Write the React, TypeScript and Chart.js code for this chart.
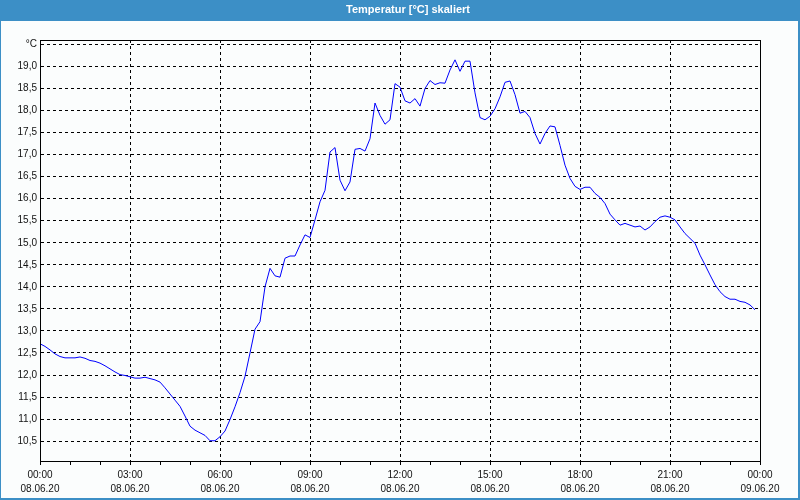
import React, { useEffect, useRef } from "react";
import { Chart, registerables } from "chart.js";

Chart.register(...registerables);

const chartTitle = "Temperatur [°C] skaliert";
const unitLabel = "°C";

// 10-minute samples, 08.06.20 00:00 .. 23:50
const sampleStepMinutes = 10;
const temperatures = [
  12.71, 12.65, 12.57, 12.48, 12.42, 12.39, 12.39, 12.39, 12.41, 12.38,
  12.33, 12.31, 12.27, 12.21, 12.14, 12.07, 12.01, 11.99, 11.96, 11.93,
  11.93, 11.95, 11.92, 11.89, 11.84, 11.71, 11.57, 11.43, 11.29, 11.07,
  10.84, 10.75, 10.69, 10.63, 10.51, 10.51, 10.6, 10.73, 10.99, 11.28,
  11.6, 11.97, 12.5, 13.04, 13.21, 14.0, 14.42, 14.25, 14.22, 14.65,
  14.7, 14.7, 14.95, 15.18, 15.12, 15.52, 15.93, 16.19, 17.06, 17.16,
  16.42, 16.18, 16.38, 17.12, 17.14, 17.08, 17.36, 18.17, 17.89, 17.69,
  17.79, 18.61, 18.53, 18.22, 18.17, 18.27, 18.1, 18.5, 18.68, 18.59,
  18.63, 18.62, 18.92, 19.15, 18.89, 19.12, 19.12, 18.4, 17.84, 17.79,
  17.87, 18.04, 18.31, 18.64, 18.67, 18.36, 17.94, 17.98, 17.84, 17.48,
  17.24, 17.48, 17.65, 17.63, 17.21, 16.76, 16.46, 16.28, 16.21, 16.26,
  16.26, 16.12, 16.03, 15.89, 15.65, 15.52, 15.4, 15.44, 15.4, 15.36,
  15.38, 15.29, 15.36, 15.48, 15.58, 15.61, 15.58, 15.52, 15.36, 15.21,
  15.1, 14.99, 14.72, 14.5, 14.27, 14.05, 13.89, 13.78, 13.72, 13.72,
  13.67, 13.65, 13.59, 13.48,
];

const xHourTicks = [0, 1, 2, 3, 4, 5, 6, 7, 8, 9, 10, 11, 12, 13, 14, 15, 16, 17, 18, 19, 20, 21, 22, 23, 24];
const xLabelHours = [0, 3, 6, 9, 12, 15, 18, 21, 24];
const xLabelTimes = ["00:00", "03:00", "06:00", "09:00", "12:00", "15:00", "18:00", "21:00", "00:00"];
const xLabelDates = ["08.06.20", "08.06.20", "08.06.20", "08.06.20", "08.06.20", "08.06.20", "08.06.20", "08.06.20", "09.06.20"];

const yTickValues = [10.5, 11, 11.5, 12, 12.5, 13, 13.5, 14, 14.5, 15, 15.5, 16, 16.5, 17, 17.5, 18, 18.5, 19, 19.5];
const yMin = 10.05;
const yMax = 19.6;

const FONT = "'Liberation Sans', Arial, sans-serif";
const BLUE = "#3c8fc6";

const framePlugin = {
  id: "frame",
  beforeDraw(chart: any) {
    const { ctx, width, height } = chart;
    ctx.save();
    ctx.fillStyle = "#fbfdfd";
    ctx.fillRect(0, 0, width, height);
    ctx.fillStyle = BLUE;
    ctx.fillRect(0, 0, width, 21);
    ctx.fillRect(0, 0, 1, height);
    ctx.fillRect(width - 2, 0, 2, height);
    ctx.fillRect(0, height - 2, width, 2);
    ctx.fillStyle = "#ffffff";
    ctx.font = "bold 11px " + FONT;
    ctx.textAlign = "center";
    ctx.textBaseline = "middle";
    ctx.fillText(chartTitle, 408, 10);
    ctx.restore();
  },
  afterDraw(chart: any) {
    const { ctx, chartArea } = chart;
    ctx.save();
    ctx.strokeStyle = "#000";
    ctx.lineWidth = 1;
    ctx.setLineDash([]);
    ctx.strokeRect(
      Math.round(chartArea.left) + 0.5,
      Math.round(chartArea.top) + 0.5,
      Math.round(chartArea.right - chartArea.left),
      Math.round(chartArea.bottom - chartArea.top)
    );
    ctx.restore();
  },
};

export default function App() {
  const ref = useRef<HTMLCanvasElement | null>(null);

  useEffect(() => {
    document.body.style.margin = "0";
    const canvas = ref.current;
    if (!canvas) return;
    const points = temperatures.map((v, i) => ({ x: (i * sampleStepMinutes) / 60, y: v }));
    const chart = new Chart(canvas, {
      type: "line",
      data: {
        datasets: [
          {
            data: points,
            borderColor: "#0000ff",
            borderWidth: 1,
            pointRadius: 0,
            tension: 0,
            fill: false,
          },
        ],
      },
      options: {
        animation: false,
        responsive: false,
        devicePixelRatio: 1,
        layout: { padding: { top: 40, right: 40, bottom: 0, left: 0 } },
        plugins: {
          legend: { display: false },
          tooltip: { enabled: false },
          title: { display: false },
        },
        scales: {
          x: {
            type: "linear",
            min: 0,
            max: 24,
            afterFit: (s: any) => {
              s.height = 39;
            },
            afterBuildTicks: (s: any) => {
              s.ticks = xHourTicks.map((v) => ({ value: v }));
            },
            grid: {
              color: (c: any) => {
                const v = c.tick ? c.tick.value : -1;
                return xLabelHours.includes(v) && v > 0 && v < 24 ? "#000" : "rgba(0,0,0,0)";
              },
              tickColor: "#000",
              tickLength: 4,
              lineWidth: 1,
              borderDash: [3, 3],
            } as any,
            border: { display: true, color: "#000", width: 1, dash: [3, 3] } as any,
            ticks: {
              autoSkip: false,
              maxRotation: 0,
              minRotation: 0,
              padding: 3,
              color: "#111",
              font: { family: FONT, size: 10, lineHeight: 1.4 },
              callback: (value: any) => {
                const idx = xLabelHours.indexOf(Number(value));
                return idx >= 0 ? [xLabelTimes[idx], xLabelDates[idx]] : "";
              },
            },
          },
          y: {
            type: "linear",
            min: yMin,
            max: yMax,
            afterFit: (s: any) => {
              s.width = 40;
            },
            afterBuildTicks: (s: any) => {
              s.ticks = yTickValues.map((v) => ({ value: v }));
            },
            grid: {
              color: "#000",
              lineWidth: 1,
              drawTicks: false,
              borderDash: [3, 3],
            } as any,
            border: { display: true, color: "#000", width: 1, dash: [3, 3] } as any,
            ticks: {
              padding: 3,
              color: "#111",
              font: { family: FONT, size: 10 },
              callback: (value: any) => {
                const v = Number(value);
                if (v === yTickValues[yTickValues.length - 1]) return unitLabel;
                return v.toFixed(1).replace(".", ",");
              },
            },
          },
        },
      },
      plugins: [framePlugin],
    });
    return () => chart.destroy();
  }, []);

  return (
    <div style={{ width: 800, height: 500 }}>
      <canvas ref={ref} width={800} height={500} style={{ display: "block", width: 800, height: 500 }} />
    </div>
  );
}
